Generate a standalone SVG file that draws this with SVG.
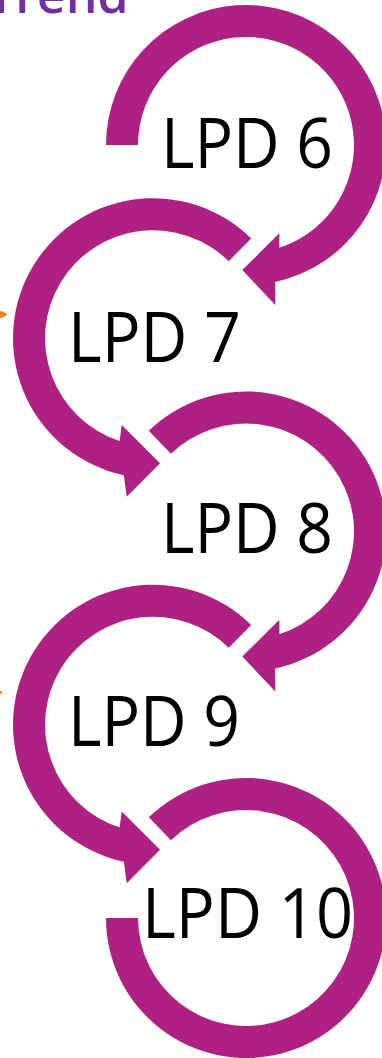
<svg xmlns="http://www.w3.org/2000/svg" width="382" height="1058" viewBox="0 0 382 1058">
  <style>
    .loop { fill: #AE2081; }
    .label { font-family: "Open Sans", "DejaVu Sans", sans-serif; font-size: 70px; fill: #000000; }
    .title { font-family: "Open Sans", "DejaVu Sans", sans-serif; font-size: 50px; font-weight: 600; fill: #7030A0; }
    .accent { fill: #F0821E; }
  </style>
  <rect width="382" height="1058" fill="#ffffff"/>

  <!-- heading, partly above the top edge -->
  <text class="title" x="-13" y="13">Trend</text>

  <!-- orange fragments at the left edge -->
  <path class="accent" d="M0,311 Q5,312 7,314.5 Q5,317 0,318 Z"/>
  <circle class="accent" cx="0.5" cy="692.5" r="1.6"/>

  <!-- circular arrows leading from each stage to the next -->
  <g id="connectors">
    <path id="loop-6" class="loop" d="M106,145 A140,140 0 1 1 275.11,281.94 L275.3,305 L242.3,270 L279.3,233.3 L279.37,247.72 A108,108 0 1 0 138,145 Z"/>
    <path id="loop-7" class="loop" d="M251.13,238.39 A140,140 0 1 0 123.89,475.19 L126.7,496.7 L160,463.3 L121.7,425 L119.63,440.97 A108,108 0 1 1 228.7,261.21 Z"/>
    <path id="loop-8" class="loop" d="M148.74,430.8 A140,140 0 1 1 275.11,668.44 L275.3,691.5 L242.3,656.5 L279.3,619.8 L279.37,634.22 A108,108 0 1 0 170.97,453.82 Z"/>
    <path id="loop-9" class="loop" d="M251.13,624.89 A140,140 0 1 0 123.89,861.69 L126.7,883.2 L160,849.8 L121.7,811.5 L119.63,827.47 A108,108 0 1 1 228.7,647.71 Z"/>
    <path id="loop-10" class="loop" d="M148.74,817.3 A140,140 0 1 1 106,918 L138,918 A108,108 0 1 0 170.97,840.32 Z"/>
  </g>

  <g id="lpd6"><text class="label" x="161" y="168" textLength="172" lengthAdjust="spacingAndGlyphs">LPD 6</text></g>
  <g id="lpd7"><text class="label" x="68" y="361.7" textLength="173" lengthAdjust="spacingAndGlyphs">LPD 7</text></g>
  <g id="lpd8"><text class="label" x="161" y="553.3" textLength="172" lengthAdjust="spacingAndGlyphs">LPD 8</text></g>
  <g id="lpd9"><text class="label" x="68" y="745.5" textLength="172" lengthAdjust="spacingAndGlyphs">LPD 9</text></g>
  <g id="lpd10"><text class="label" x="142" y="938.3" textLength="211" lengthAdjust="spacingAndGlyphs">LPD 10</text></g>
</svg>
